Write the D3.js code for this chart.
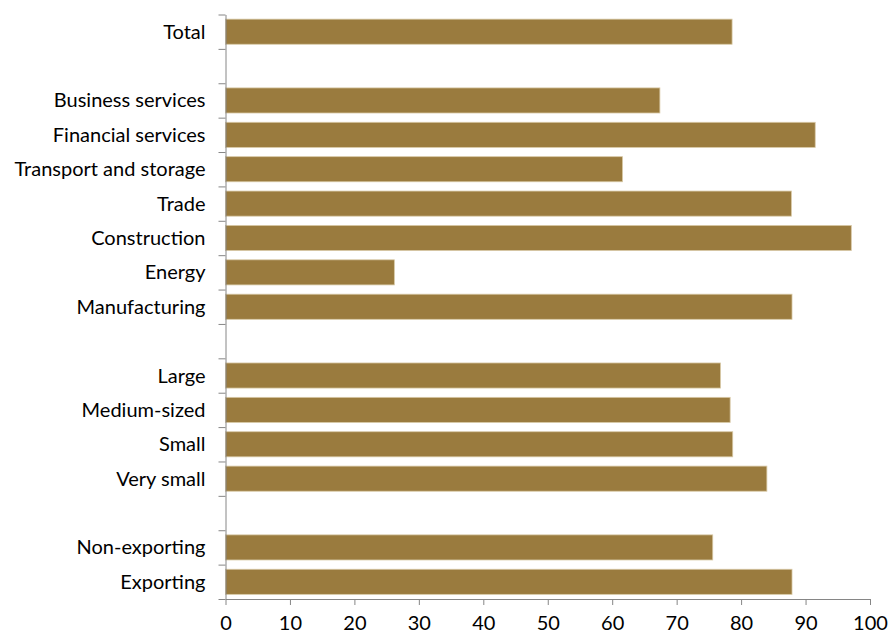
<!DOCTYPE html>
<html>
<head>
<meta charset="utf-8">
<script src="https://d3js.org/d3.v7.min.js"></script>
<style>
  body { margin: 0; background: #fff; }
  text { font-family: Lato, "Open Sans", sans-serif; fill: #000; }
  .axis path, .axis line { stroke: #868686; }
</style>
</head>
<body>
<script>
// categories top to bottom, "" marks an empty spacer row
var categories = ["Total", "",
  "Business services", "Financial services", "Transport and storage", "Trade",
  "Construction", "Energy", "Manufacturing", "",
  "Large", "Medium-sized", "Small", "Very small", "",
  "Non-exporting", "Exporting"];
var values = [78.6, null,
  67.4, 91.5, 61.6, 87.8, 97.1, 26.2, 87.9, null,
  76.8, 78.3, 78.7, 84.0, null,
  75.6, 87.9];
var xTicks = [0, 10, 20, 30, 40, 50, 60, 70, 80, 90, 100];

var width = 889, height = 634;
var margin = {top: 14.5, right: 19, bottom: 35, left: 225.5};

var svg = d3.select("body").append("svg")
  .attr("width", width)
  .attr("height", height);

var slots = categories.map(function(d, i) { return i; });

var x = d3.scaleLinear()
  .domain([0, 100])
  .range([margin.left, width - margin.right]);

var y = d3.scaleBand()
  .domain(slots)
  .range([margin.top, height - margin.bottom])
  .paddingInner(0.27)
  .paddingOuter(0.135);

var yEdge = d3.scaleLinear()
  .domain([0, categories.length])
  .range([margin.top, height - margin.bottom]);

// bars
svg.selectAll(".bar")
  .data(slots.filter(function(i) { return values[i] != null; }))
  .enter()
  .append("rect")
  .attr("class", "bar")
  .attr("x", x(0))
  .attr("y", function(i) { return y(i); })
  .attr("width", function(i) { return x(values[i]) - x(0); })
  .attr("height", y.bandwidth())
  .attr("fill", "#9a7b3e")
  .attr("stroke", "#d8c9a6")
  .attr("stroke-width", 0.8);

// y axis: ticks at row boundaries
svg.append("g")
  .attr("class", "axis")
  .attr("transform", "translate(" + x(0) + ",0)")
  .call(d3.axisLeft(yEdge)
    .tickValues(d3.range(categories.length + 1))
    .tickSize(7)
    .tickSizeOuter(0)
    .tickFormat(""));

// category labels
svg.append("g")
  .selectAll("text")
  .data(slots.filter(function(i) { return categories[i] !== ""; }))
  .enter()
  .append("text")
  .attr("x", x(0) - 20)
  .attr("y", function(i) { return y(i) + y.bandwidth() / 2; })
  .attr("dy", "0.35em")
  .attr("text-anchor", "end")
  .style("font-size", "20px")
  .text(function(i) { return categories[i]; });

// x axis
var xAxis = svg.append("g")
  .attr("class", "axis")
  .attr("transform", "translate(0," + (height - margin.bottom) + ")")
  .call(d3.axisBottom(x)
    .tickValues(xTicks)
    .tickSize(6)
    .tickSizeOuter(0)
    .tickPadding(11));
xAxis.selectAll("text")
  .style("font-size", "20px")
  .style("font-family", "Lato, 'Open Sans', sans-serif")
  .attr("fill", "#000");
</script>
</body>
</html>
